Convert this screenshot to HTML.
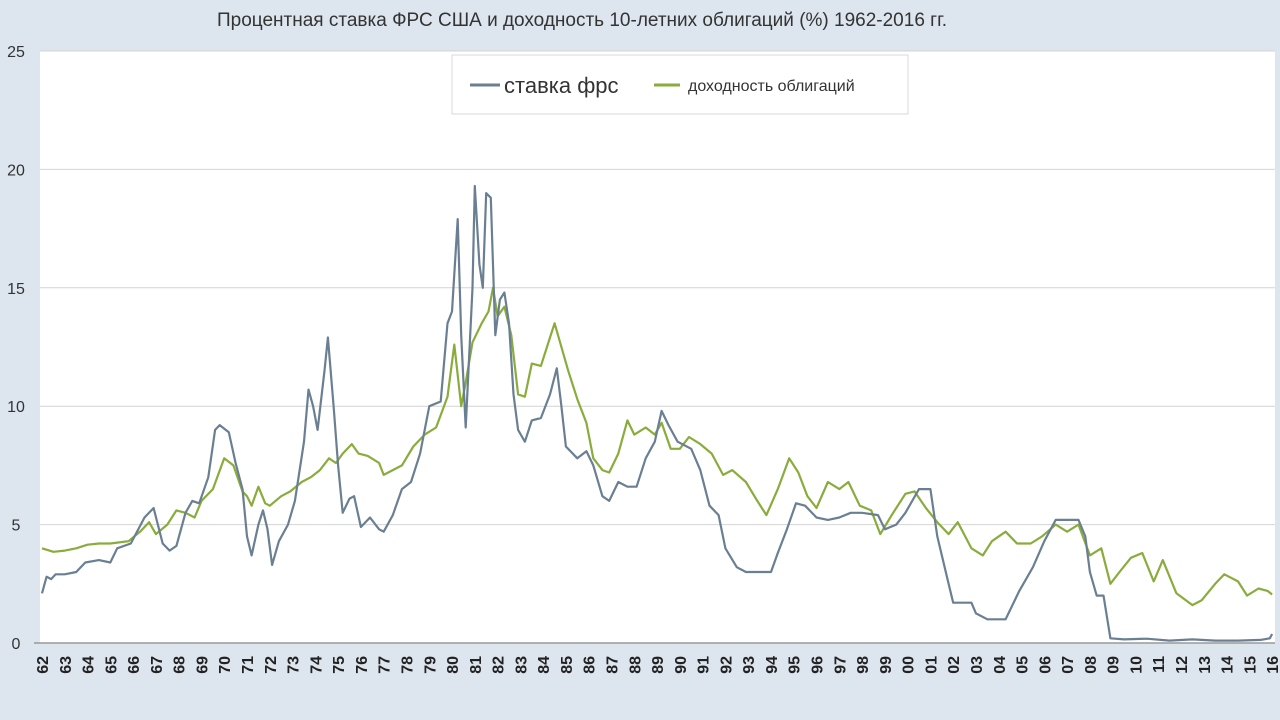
<!DOCTYPE html>
<html><head><meta charset="utf-8"><style>
html,body{margin:0;padding:0;background:#dde5ee;}
svg{display:block;font-family:"Liberation Sans","DejaVu Sans",sans-serif;}
</style></head><body>
<svg id="chart" width="1280" height="720" viewBox="0 0 1280 720">
<rect x="0" y="0" width="1280" height="720" fill="#dde5ee"/>
<text x="582" y="26" text-anchor="middle" font-size="19" fill="#333">Процентная ставка ФРС США и доходность 10-летних облигаций (%) 1962-2016 гг.</text>
<rect x="40" y="51" width="1235" height="592" fill="#ffffff"/>
<g id="grid"></g>
<g id="series"></g>
<g id="axes"></g>
<g>
<rect x="452" y="55" width="456" height="59" fill="#fff" stroke="#d8d8d8"/>
<line x1="470" y1="85" x2="500" y2="85" stroke="#6b7f92" stroke-width="3"/>
<text x="504" y="93" font-size="22" fill="#333">ставка фрс</text>
<line x1="654" y1="85" x2="680" y2="85" stroke="#8aac3c" stroke-width="3"/>
<text x="688" y="91" font-size="16" fill="#333">доходность облигаций</text>
</g>
</svg>
<script>
const yTicks=[0,5,10,15,20,25];
const xLabels=["62","63","64","65","66","67","68","69","70","71","72","73","74","75","76","77","78","79","80","81","82","83","84","85","86","87","88","89","90","91","92","93","94","95","96","97","98","99","00","01","02","03","04","05","06","07","08","09","10","11","12","13","14","15","16"];
const fedYears=[1962.0,1962.2,1962.4,1962.6,1963,1963.5,1963.9,1964.5,1965,1965.3,1965.9,1966.5,1966.9,1967.3,1967.6,1967.9,1968.3,1968.6,1968.9,1969.3,1969.6,1969.8,1970.2,1970.5,1970.8,1971.0,1971.2,1971.5,1971.7,1971.9,1972.1,1972.4,1972.8,1973.1,1973.5,1973.7,1973.9,1974.1,1974.4,1974.55,1974.8,1975.0,1975.2,1975.5,1975.7,1976.0,1976.4,1976.8,1977.0,1977.4,1977.8,1978.2,1978.6,1979.0,1979.5,1979.8,1980.0,1980.25,1980.4,1980.6,1980.9,1981.0,1981.2,1981.35,1981.5,1981.7,1981.9,1982.1,1982.3,1982.5,1982.7,1982.9,1983.2,1983.5,1983.9,1984.3,1984.6,1984.8,1985.0,1985.5,1985.9,1986.2,1986.6,1986.9,1987.3,1987.7,1988.1,1988.5,1988.9,1989.2,1989.5,1989.9,1990.5,1990.9,1991.3,1991.7,1992.0,1992.5,1992.9,1993.5,1994.0,1994.3,1994.7,1995.1,1995.5,1996.0,1996.5,1997.0,1997.5,1998.0,1998.7,1999.0,1999.5,1999.9,2000.5,2001.0,2001.3,2001.8,2002.0,2002.8,2003.0,2003.5,2004.3,2004.9,2005.5,2006.0,2006.5,2007.5,2007.8,2008.0,2008.3,2008.6,2008.9,2009.5,2010.5,2011.5,2012.5,2013.5,2014.5,2015.5,2015.9,2016.0];
const fedValues=[2.1,2.8,2.7,2.9,2.9,3.0,3.4,3.5,3.4,4.0,4.2,5.3,5.7,4.2,3.9,4.1,5.5,6.0,5.9,7.0,9.0,9.2,8.9,7.6,6.5,4.5,3.7,5.0,5.6,4.8,3.3,4.3,5.0,6.0,8.5,10.7,10.0,9.0,11.5,12.9,10.0,7.5,5.5,6.1,6.2,4.9,5.3,4.8,4.7,5.4,6.5,6.8,8.0,10.0,10.2,13.5,14.0,17.9,13.0,9.1,15.0,19.3,16.0,15.0,19.0,18.8,13.0,14.5,14.8,13.5,10.5,9.0,8.5,9.4,9.5,10.5,11.6,10.0,8.3,7.8,8.1,7.5,6.2,6.0,6.8,6.6,6.6,7.8,8.5,9.8,9.2,8.5,8.2,7.3,5.8,5.4,4.0,3.2,3.0,3.0,3.0,3.8,4.8,5.9,5.8,5.3,5.2,5.3,5.5,5.5,5.4,4.8,5.0,5.5,6.5,6.5,4.5,2.5,1.7,1.7,1.25,1.0,1.0,2.2,3.2,4.3,5.2,5.2,4.5,3.0,2.0,2.0,0.2,0.15,0.18,0.1,0.15,0.1,0.1,0.13,0.2,0.38];
const bondYears=[1962.0,1962.5,1963,1963.5,1964,1964.5,1965,1965.8,1966.3,1966.7,1967.0,1967.5,1967.9,1968.3,1968.7,1969.0,1969.5,1970.0,1970.4,1970.8,1971.0,1971.2,1971.5,1971.8,1972.0,1972.5,1972.9,1973.4,1973.8,1974.2,1974.6,1974.9,1975.2,1975.6,1975.9,1976.3,1976.8,1977.0,1977.4,1977.8,1978.3,1978.8,1979.3,1979.8,1980.1,1980.4,1980.6,1980.9,1981.3,1981.6,1981.8,1982.0,1982.3,1982.6,1982.9,1983.2,1983.5,1983.9,1984.3,1984.5,1984.8,1985.1,1985.5,1985.9,1986.2,1986.6,1986.9,1987.3,1987.7,1988.0,1988.5,1988.9,1989.2,1989.6,1990.0,1990.4,1990.9,1991.4,1991.9,1992.3,1992.9,1993.4,1993.8,1994.3,1994.8,1995.2,1995.6,1996.0,1996.5,1997.0,1997.4,1997.9,1998.4,1998.8,1999.3,1999.9,2000.3,2000.8,2001.3,2001.8,2002.2,2002.8,2003.3,2003.7,2004.3,2004.8,2005.4,2005.9,2006.5,2007.0,2007.5,2008.0,2008.5,2008.9,2009.3,2009.8,2010.3,2010.8,2011.2,2011.8,2012.5,2012.9,2013.5,2013.9,2014.5,2014.9,2015.4,2015.8,2016.0];
const bondValues=[4.0,3.85,3.9,4.0,4.15,4.2,4.2,4.3,4.7,5.1,4.6,5.0,5.6,5.5,5.3,6.0,6.5,7.8,7.5,6.4,6.2,5.8,6.6,5.9,5.8,6.2,6.4,6.8,7.0,7.3,7.8,7.6,8.0,8.4,8.0,7.9,7.6,7.1,7.3,7.5,8.3,8.8,9.1,10.4,12.6,10.0,11.0,12.7,13.5,14.0,15.0,13.8,14.2,13.0,10.5,10.4,11.8,11.7,12.9,13.5,12.5,11.5,10.3,9.3,7.8,7.3,7.2,8.0,9.4,8.8,9.1,8.8,9.3,8.2,8.2,8.7,8.4,8.0,7.1,7.3,6.8,6.0,5.4,6.5,7.8,7.2,6.2,5.7,6.8,6.5,6.8,5.8,5.6,4.6,5.4,6.3,6.4,5.7,5.1,4.6,5.1,4.0,3.7,4.3,4.7,4.2,4.2,4.5,5.0,4.7,5.0,3.7,4.0,2.5,3.0,3.6,3.8,2.6,3.5,2.1,1.6,1.8,2.5,2.9,2.6,2.0,2.3,2.2,2.05];

const NS="http://www.w3.org/2000/svg";
function X(yr){return 42+(yr-1962)*22.78;}
function Y(v){return 643-v*23.68;}
const grid=document.getElementById('grid'),axes=document.getElementById('axes'),series=document.getElementById('series');
function mk(tag,attrs,parent){const e=document.createElementNS(NS,tag);for(const k in attrs)e.setAttribute(k,attrs[k]);parent.appendChild(e);return e;}
yTicks.forEach(t=>{
  if(t>0){const l=mk('line',{x1:40,x2:1275,y1:Y(t),y2:Y(t),stroke:'#d4d4d4','stroke-width':1},grid);
  
  }
  const tx=mk('text',{x:16,y:Y(t)+6,'text-anchor':'middle','font-size':16,fill:'#333'},axes);
  tx.textContent=t;
  
  
});
const ax=mk('line',{x1:34,x2:1275,y1:643,y2:643,stroke:'#9a9a9a','stroke-width':1.5},axes);


xLabels.forEach((lab,i)=>{
  const x=42+i*22.78;
  const tx=mk('text',{x:0,y:0,transform:'translate('+(x+6)+',656) rotate(-90)','text-anchor':'end','font-size':16,'font-weight':'bold',fill:'#222'},axes);
  tx.textContent=lab;
  
  
});
function line(years,vals,color,name){
  const d=years.map((y,i)=>(i?'L':'M')+X(y).toFixed(1)+','+Y(vals[i]).toFixed(1)).join('');
  const p=mk('path',{d:d,fill:'none',stroke:color,'stroke-width':2.2,'stroke-linejoin':'round'},series);
  
  
}
line(bondYears,bondValues,'#8aac3c','bond-yield-line');
line(fedYears,fedValues,'#6b7f92','fed-rate-line');
</script>
</body></html>
